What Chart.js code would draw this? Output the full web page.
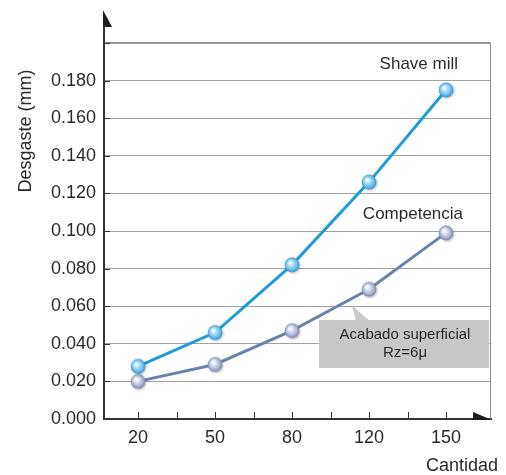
<!DOCTYPE html>
<html>
<head>
<meta charset="utf-8">
<script src="https://cdn.jsdelivr.net/npm/chart.js@4/dist/chart.umd.min.js"></script>
<style>
  html, body { margin: 0; padding: 0; background: #ffffff; }
  #wrap { width: 506px; height: 475px; position: relative; }
</style>
</head>
<body>
<div id="wrap"><canvas id="c" width="506" height="475"></canvas></div>
<script>
// Cantidad (categories along x)
const categories = ['20', '50', '80', '120', '150'];
// Desgaste (mm) per series
const shaveMill = [0.028, 0.046, 0.082, 0.126, 0.175];
const competencia = [0.020, 0.029, 0.047, 0.069, 0.099];
// Labelled y ticks
const yTickValues = [0, 0.02, 0.04, 0.06, 0.08, 0.10, 0.12, 0.14, 0.16, 0.18, 0.20];
const seriesNames = ['Shave mill', 'Competencia'];
const noteLines = ['Acabado superficial', 'Rz=6\u03bc'];
const xTitle = 'Cantidad';
const yTitle = 'Desgaste (mm)';

const FONT = "'Liberation Sans', Arial, Helvetica, sans-serif";
const TEXT = '#2a2a2a';

// Shaded sphere used as the marker of each series
function sphere(light, mid, dark) {
  const s = 22, c = document.createElement('canvas');
  c.width = s; c.height = s;
  const g = c.getContext('2d');
  g.filter = 'blur(1.2px)';
  g.fillStyle = 'rgba(60,60,60,0.28)';
  g.beginPath(); g.arc(12.2, 12.4, 7.3, 0, Math.PI * 2); g.fill();
  g.filter = 'none';
  const grad = g.createRadialGradient(9, 8.6, 0.6, 11, 11, 7.6);
  grad.addColorStop(0, '#ffffff');
  grad.addColorStop(0.25, light);
  grad.addColorStop(0.7, mid);
  grad.addColorStop(1, dark);
  g.fillStyle = grad;
  g.beginPath(); g.arc(11, 11, 7.4, 0, Math.PI * 2); g.fill();
  return c;
}
const shaveDot = sphere('#bfe6fb', '#6cc0ec', '#2f8fcb');
const compDot = sphere('#e3e7f3', '#aab3d1', '#7680a8');

const toPoints = arr => arr.map((v, i) => ({ x: i, y: v }));

const decorations = {
  id: 'decorations',
  beforeDatasetsDraw(chart) {
    const { ctx, chartArea: a, scales } = chart;
    const x = scales.x;
    ctx.save();
    // grey frame on top and right
    ctx.strokeStyle = '#8c8c8c';
    ctx.lineWidth = 1;
    ctx.beginPath();
    ctx.moveTo(a.left, a.top - 0.5); ctx.lineTo(a.right - 0.5, a.top - 0.5);
    ctx.lineTo(a.right - 0.5, a.bottom);
    ctx.stroke();
    // vertical axis continues up to its arrow
    ctx.strokeStyle = '#333333';
    ctx.lineWidth = 2;
    ctx.beginPath();
    ctx.moveTo(a.left, a.top); ctx.lineTo(a.left, 27);
    ctx.stroke();
    ctx.fillStyle = '#1e1e1e';
    ctx.beginPath();
    ctx.moveTo(a.left - 1, 10); ctx.lineTo(a.left + 8, 27); ctx.lineTo(a.left - 1, 27);
    ctx.closePath(); ctx.fill();
    // horizontal axis arrow
    ctx.beginPath();
    ctx.moveTo(a.right - 18, a.bottom - 7); ctx.lineTo(a.right + 1, a.bottom + 1); ctx.lineTo(a.right - 18, a.bottom + 1);
    ctx.closePath(); ctx.fill();
    // inward tick marks on the horizontal axis (major and half steps)
    ctx.strokeStyle = '#333333';
    ctx.lineWidth = 1;
    for (let v = 0; v <= categories.length - 1; v += 0.5) {
      const px = Math.round(x.getPixelForValue(v)) + 0.5;
      ctx.beginPath(); ctx.moveTo(px, a.bottom); ctx.lineTo(px, a.bottom - 7); ctx.stroke();
    }
    // short ticks on the vertical axis
    yTickValues.forEach(v => {
      const py = Math.round(scales.y.getPixelForValue(v)) + 0.5;
      ctx.beginPath(); ctx.moveTo(a.left, py); ctx.lineTo(a.left + 6, py); ctx.stroke();
    });
    ctx.restore();
  },
  afterDatasetsDraw(chart) {
    const { ctx } = chart;
    const m0 = chart.getDatasetMeta(0).data;
    const m1 = chart.getDatasetMeta(1).data;
    ctx.save();
    ctx.fillStyle = TEXT;
    ctx.textBaseline = 'middle';
    // series names beside their last points
    ctx.font = '17px ' + FONT;
    ctx.textAlign = 'right';
    const p0 = m0[m0.length - 1], p1 = m1[m1.length - 1];
    ctx.fillText(seriesNames[0], p0.x + 12, p0.y - 26);
    ctx.fillText(seriesNames[1], p1.x + 17, p1.y - 19);

    // callout box
    const bx = 319, by = 320, bw = 170, bh = 48;
    ctx.fillStyle = '#c9cacc';
    ctx.beginPath();
    ctx.moveTo(352, 306); ctx.lineTo(368, by + 1); ctx.lineTo(356, by + 1);
    ctx.closePath(); ctx.fill();
    ctx.strokeStyle = '#bdbec0'; ctx.lineWidth = 1;
    ctx.beginPath(); ctx.moveTo(352, 306); ctx.lineTo(368, by); ctx.stroke();
    ctx.fillStyle = '#c6c7c9';
    ctx.fillRect(bx, by, bw, bh);
    ctx.fillStyle = TEXT;
    ctx.font = '15px ' + FONT;
    ctx.textAlign = 'center';
    ctx.fillText(noteLines[0], bx + bw / 2 + 1, by + 15);
    ctx.fillText(noteLines[1], bx + bw / 2 + 1, by + 33);

    // axis titles
    ctx.font = '18px ' + FONT;
    ctx.textAlign = 'right';
    ctx.fillText(xTitle, 498, 466);
    ctx.translate(26, 131);
    ctx.rotate(-Math.PI / 2);
    ctx.textAlign = 'center';
    ctx.fillText(yTitle, 0, 0);
    ctx.restore();
  }
};

new Chart(document.getElementById('c'), {
  type: 'line',
  data: {
    datasets: [
      {
        label: seriesNames[0],
        data: toPoints(shaveMill),
        borderColor: '#1d9dd8',
        borderWidth: 3,
        pointStyle: shaveDot,
        pointRadius: 8,
        tension: 0,
        fill: false
      },
      {
        label: seriesNames[1],
        data: toPoints(competencia),
        borderColor: '#6b82ad',
        borderWidth: 3,
        pointStyle: compDot,
        pointRadius: 8,
        tension: 0,
        fill: false
      }
    ]
  },
  options: {
    responsive: false,
    animation: false,
    devicePixelRatio: 1,
    layout: { padding: { left: 0, top: 43, right: 15, bottom: 0 } },
    plugins: { legend: { display: false }, tooltip: { enabled: false } },
    scales: {
      x: {
        type: 'linear',
        min: -0.4416,
        max: 4.584,
        afterBuildTicks: s => { s.ticks = categories.map((_, i) => ({ value: i })); },
        afterFit: s => { s.height = 56; },
        ticks: {
          callback: v => categories[v],
          font: { family: FONT, size: 18 },
          color: TEXT,
          padding: 8,
          autoSkip: false,
          maxRotation: 0
        },
        grid: { display: false, drawTicks: false },
        border: { display: true, color: '#333333', width: 2 }
      },
      y: {
        min: 0,
        max: 0.2,
        afterBuildTicks: s => { s.ticks = yTickValues.map(v => ({ value: v })); },
        afterFit: s => { s.width = 104; },
        ticks: {
          callback: v => (v >= 0.199 ? '' : v.toFixed(3)),
          font: { family: FONT, size: 18 },
          color: TEXT,
          padding: 8
        },
        grid: { color: '#a2a2a2', lineWidth: 1, drawTicks: false },
        border: { display: true, color: '#333333', width: 2 }
      }
    }
  },
  plugins: [decorations]
});
</script>
</body>
</html>
